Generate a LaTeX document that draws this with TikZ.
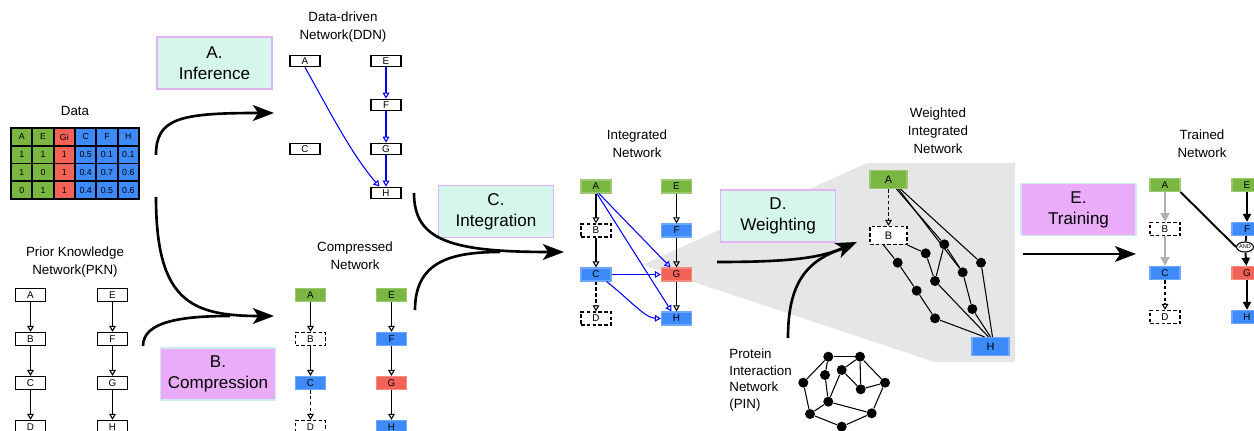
\documentclass[tikz,border=0pt]{standalone}
\usepackage{fontspec}
\setmainfont{Liberation Sans}
\usetikzlibrary{arrows.meta,shapes.geometric}

\definecolor{geneGreen}{RGB}{122,182,66}
\definecolor{geneBlue}{RGB}{62,138,250}
\definecolor{geneRed}{RGB}{243,98,86}
\definecolor{stageMint}{RGB}{214,246,236}
\definecolor{stagePink}{RGB}{234,172,248}
\definecolor{stageLilac}{RGB}{226,178,244}
\definecolor{stageCyan}{RGB}{204,236,238}
\definecolor{edgeGrey}{RGB}{176,176,176}
\definecolor{zoomGrey}{RGB}{230,230,230}

\tikzset{
  gene/.style={draw, line width=0.7pt, fill=white, minimum width=0.6cm,
    minimum height=0.26cm, inner sep=0pt, font=\fontsize{5.6}{6}\selectfont},
  greenGene/.style={gene, fill=geneGreen, draw=geneGreen!75!white},
  blueGene/.style={gene, fill=geneBlue, draw=geneBlue!75!white},
  redGene/.style={gene, fill=geneRed, draw=geneRed!75!white},
  lostGene/.style={gene, dash pattern=on 2pt off 1.3pt},
  bigGene/.style={minimum width=0.74cm, minimum height=0.36cm, font=\fontsize{6.2}{7}\selectfont},
  netTitle/.style={align=center, font=\fontsize{7.6}{10.2}\selectfont},
  stageBox/.style={align=center, minimum width=2.3cm, minimum height=1.04cm,
    line width=0.8pt, font=\fontsize{9.7}{12}\selectfont},
  mintStage/.style={stageBox, fill=stageMint, draw=stageLilac},
  pinkStage/.style={stageBox, fill=stagePink, draw=stageCyan},
  dataCell/.style={draw, line width=1.1pt, minimum width=0.4266cm,
    minimum height=0.355cm, inner sep=0pt, font=\fontsize{5}{5.5}\selectfont},
  link/.style={line width=0.6pt, -{Triangle[open,length=3.4pt,width=3.8pt]}},
  blueLink/.style={link, blue},
  lostLink/.style={link, dash pattern=on 2pt off 1.3pt},
  boldLink/.style={line width=1.1pt, -{Triangle[length=4.6pt,width=4.6pt]}},
  greyLink/.style={line width=1.4pt, edgeGrey, -{Triangle[length=5pt,width=5pt]}},
  bigArrow/.style={line width=1.5pt, -{Stealth[length=12pt,width=9pt,inset=3pt]}},
  bigLine/.style={line width=1.5pt},
  dot/.style={circle, fill=black, minimum size=0.2cm, inner sep=0pt},
  wire/.style={line width=0.6pt}
}

\begin{document}
\begin{tikzpicture}[x=0.02cm,y=-0.02cm]
  \useasboundingbox (0,0) rectangle (1254,431);
  \clip (0,0) rectangle (1254,431);

  % zoom shadow behind the weighted network
  \fill[zoomGrey] (642,265) -- (867,163) -- (1015,163) -- (1015,362) -- (935,362) -- cycle;

  % Data
  \node[netTitle] (dataTitle) at (75,111) {Data};
  \foreach \c/\clr/\ta/\tb/\tc/\td in {0/geneGreen/A/1/1/0, 1/geneGreen/E/1/0/1,
      2/geneRed/Gi/1/1/1, 3/geneBlue/C/0.5/0.4/0.4, 4/geneBlue/F/0.1/0.7/0.5,
      5/geneBlue/H/0.1/0.6/0.6}
    \foreach \r/\t in {0/\ta, 1/\tb, 2/\tc, 3/\td}
      \node[dataCell, fill=\clr] (cell-\r-\c) at ({21.7+21.33*\c},{136.9+17.75*\r}) {\t};

  % Prior Knowledge Network
  \node[netTitle] (pknTitle) at (75,262) {Prior Knowledge\\Network(PKN)};
  \node[gene] (pknA) at (30.5,295) {A};
  \node[gene] (pknB) at (30.5,339) {B};
  \node[gene] (pknC) at (30.5,383) {C};
  \node[gene] (pknD) at (30.5,427) {D};
  \node[gene] (pknE) at (112.5,295) {E};
  \node[gene] (pknF) at (112.5,339) {F};
  \node[gene] (pknG) at (112.5,383) {G};
  \node[gene] (pknH) at (112.5,427) {H};
  \foreach \a/\b in {A/B, B/C, C/D, E/F, F/G, G/H}
    \draw[link] (pkn\a) -- (pkn\b);

  % Data-driven Network
  \node[netTitle] (ddnTitle) at (343,27) {Data-driven\\Network(DDN)};
  \node[gene, minimum height=0.23cm] (ddnA) at (305,61) {A};
  \node[gene, minimum height=0.23cm] (ddnC) at (305,149) {C};
  \node[gene, minimum height=0.23cm] (ddnE) at (386,61) {E};
  \node[gene, minimum height=0.23cm] (ddnF) at (386,105) {F};
  \node[gene, minimum height=0.23cm] (ddnG) at (386,149) {G};
  \node[gene, minimum height=0.23cm] (ddnH) at (386,193) {H};
  \foreach \a/\b in {E/F, F/G, G/H}
    \draw[blueLink] (ddn\a) -- (ddn\b);
  \draw[blueLink] (ddnA.south) .. controls (330,112) and (352,155) .. ([xshift=-0.13cm]ddnH.north);

  % Compressed Network
  \node[netTitle] (cmpTitle) at (355,256) {Compressed\\Network};
  \node[greenGene] (cmpA) at (310.5,295) {A};
  \node[lostGene] (cmpB) at (310.5,339) {B};
  \node[blueGene] (cmpC) at (310.5,383) {C};
  \node[lostGene] (cmpD) at (310.5,427) {D};
  \node[greenGene] (cmpE) at (391.5,295) {E};
  \node[blueGene] (cmpF) at (391.5,339) {F};
  \node[redGene] (cmpG) at (391.5,383) {G};
  \node[blueGene] (cmpH) at (391.5,427) {H};
  \foreach \a/\b in {A/B, B/C, E/F, F/G, G/H}
    \draw[link] (cmp\a) -- (cmp\b);
  \draw[lostLink] (cmpC) -- (cmpD);

  % Integrated Network
  \node[netTitle] (intTitle) at (637,144) {Integrated\\Network};
  \node[greenGene] (intA) at (596,186.5) {A};
  \node[lostGene] (intB) at (596,230.5) {B};
  \node[blueGene] (intC) at (596,274.5) {C};
  \node[lostGene] (intD) at (596,318.5) {D};
  \node[greenGene] (intE) at (676.5,186.5) {E};
  \node[blueGene] (intF) at (676.5,230.5) {F};
  \node[redGene] (intG) at (676.5,274.5) {G};
  \node[blueGene] (intH) at (676.5,318.5) {H};
  \foreach \a/\b in {A/B, B/C, E/F, F/G, G/H}
    \draw[link] (int\a) -- (int\b);
  \draw[lostLink] (intC) -- (intD);
  \draw[blueLink] ([xshift=0.06cm]intA.south) -- ([xshift=-0.12cm]intG.north);
  \draw[blueLink] ([xshift=0.02cm]intA.south) -- ([xshift=-0.1cm]intH.north);
  \draw[blueLink] (intC) -- (intG);
  \draw[blueLink] ([xshift=-0.1cm]intC.south east) .. controls (630,300) and (645,318) .. (intH.west);

  % Weighted Integrated Network
  \node[netTitle] (wgtTitle) at (938,131) {Weighted\\Integrated\\Network};
  \node[greenGene, bigGene] (wgtA) at (888.5,179.5) {A};
  \node[lostGene, bigGene] (wgtB) at (888.5,235.5) {B};
  \node[blueGene, bigGene] (wgtH) at (990.5,346.5) {H};
  \draw[lostLink] (wgtA) -- (wgtB);
  \foreach \n/\x/\y in {1/897.7/262.7, 2/925.7/253.3, 3/944.3/244.3, 4/981/262.7,
      5/935/281, 6/962.7/272.3, 7/916.7/290.7, 8/972.3/309, 9/935/318.3}
    \node[dot] (dot\n) at (\x,\y) {};
  \draw[wire] ([xshift=0.16cm]wgtA.south) -- (dot3);
  \draw[wire] ([xshift=0.2cm]wgtA.south) -- (dot6);
  \draw[wire] ([xshift=0.24cm]wgtA.south) -- (dot4);
  \draw[wire] ([xshift=-0.1cm]wgtB.south) -- (dot1);
  \draw[wire] (wgtB.south east) -- (dot2);
  \foreach \a/\b in {1/7, 7/9, 2/5, 3/5, 3/6, 6/8}
    \draw[wire] (dot\a) -- (dot\b);
  \foreach \a/\s in {9/-0.12, 5/-0.04, 8/0.0, 4/0.04}
    \draw[wire] (dot\a) -- ([xshift=\s cm]wgtH.north);

  % Protein Interaction Network
  \node[align=left, anchor=west, inner sep=0pt, font=\fontsize{7.6}{9.6}\selectfont] (pinText) at (729,380)
    {Protein\\Interaction\\Network\\(PIN)};
  \foreach \n/\x/\y in {1/828.3/356.7, 2/860/356.7, 3/825/375, 4/841.7/370, 5/885/382.7,
      6/803.3/382.7, 7/860.7/389.3, 8/828.3/401.7, 9/810/414, 10/871.7/413.3, 11/841.7/426.7}
    \node[dot] (pin\n) at (\x,\y) {};
  \foreach \a/\b in {1/2, 1/6, 1/3, 2/4, 2/7, 2/5, 4/8, 4/7, 3/8, 5/10, 6/9,
      8/9, 8/10, 9/11, 11/10, 7/5}
    \draw[wire] (pin\a) -- (pin\b);

  % Trained Network
  \node[netTitle] (trnTitle) at (1202,144) {Trained\\Network};
  \node[greenGene] (trnA) at (1165,185) {A};
  \node[lostGene] (trnB) at (1165,229) {B};
  \node[blueGene] (trnC) at (1165,273) {C};
  \node[lostGene] (trnD) at (1165,317) {D};
  \node[greenGene] (trnE) at (1247,185) {E};
  \node[blueGene] (trnF) at (1247,229) {F};
  \node[redGene] (trnG) at (1247,273) {G};
  \node[blueGene] (trnH) at (1247,317) {H};
  \node[ellipse, draw, fill=white, line width=0.6pt, minimum width=0.34cm, minimum height=0.2cm,
    inner sep=0pt, font=\fontsize{3.2}{3.5}\selectfont] (trnAnd) at (1245,247) {AND};
  \draw[greyLink] (trnA) -- (trnB);
  \draw[greyLink] (trnB) -- (trnC);
  \draw[lostLink] (trnC) -- (trnD);
  \draw[boldLink] (trnE) -- (trnF);
  \draw[line width=1.1pt] (trnF) -- (trnAnd);
  \draw[boldLink] (trnAnd) -- (trnG);
  \draw[boldLink] (trnG) -- (trnH);
  \draw[line width=1.1pt] (trnA.south east) -- (trnAnd.west);

  % Stages
  \node[mintStage] (stageA) at (214.5,63) {A.\\Inference};
  \node[pinkStage] (stageB) at (218,374) {B.\\Compression};
  \node[mintStage] (stageC) at (496,211.5) {C.\\Integration};
  \node[mintStage] (stageD) at (778,216) {D.\\Weighting};
  \node[pinkStage] (stageE) at (1078.5,209.5) {E.\\Training};

  % big arrows
  \coordinate (dataUp) at (156,155);
  \coordinate (dataDown) at (156,197);
  \coordinate (pknUp) at (143,346);
  \coordinate (ddnDown) at (414,193);
  \coordinate (cmpUp) at (415,310);
  \coordinate (intOut) at (717,262);
  \coordinate (pinUp) at (788,338);
  \coordinate (wgtOut) at (1023,254);
  \coordinate (toDdn) at (274,113);
  \coordinate (toCmp) at (274,316);
  \coordinate (toInt) at (564,252);
  \coordinate (toWgt) at (857,242);
  \coordinate (toTrn) at (1136,254);
  \draw[bigArrow] (dataUp) .. controls (156,118) and (180,113) .. (toDdn);
  \draw[bigArrow] (dataDown) .. controls (156,300) and (190,316) .. (toCmp);
  \draw[bigLine] (pknUp) .. controls (143,322) and (180,316) .. (230,316);
  \draw[bigArrow] (ddnDown) .. controls (414,240) and (450,252) .. (toInt);
  \draw[bigLine] (cmpUp) .. controls (415,262) and (450,252) .. (500,252);
  \draw[bigArrow] (intOut) .. controls (790,262) and (820,258) .. (toWgt);
  \draw[bigLine] (pinUp) .. controls (788,285) and (805,260) .. (845,248);
  \draw[bigArrow] (wgtOut) -- (toTrn);
\end{tikzpicture}
\end{document}
